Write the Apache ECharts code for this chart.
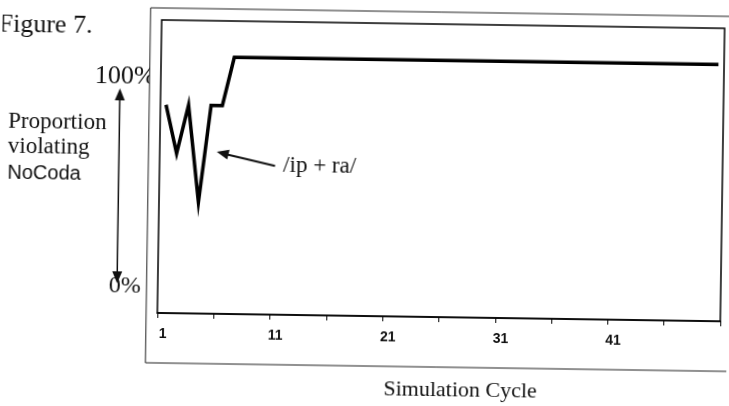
<!DOCTYPE html>
<html>
<head>
<meta charset="utf-8">
<script src="https://cdn.jsdelivr.net/npm/echarts@6/dist/echarts.min.js"></script>
<style>
  html, body { margin: 0; padding: 0; background: #fff; overflow: hidden; }
  /* the original is a slightly tilted scan */
  #chart { width: 729px; height: 406px; transform: rotate(0.85deg); transform-origin: 364.5px 203px; }
</style>
</head>
<body>
<div id="chart"></div>
<script>
  // simulation cycles 1..50
  var cycles = [];
  for (var i = 1; i <= 50; i++) cycles.push(String(i));

  // proportion of speakers violating NoCoda for /ip + ra/
  var violating = [0.8, 0.6, 0.8, 0.4, 0.8, 0.8,
    1, 1, 1, 1, 1, 1, 1, 1, 1, 1, 1, 1, 1, 1, 1, 1,
    1, 1, 1, 1, 1, 1, 1, 1, 1, 1, 1, 1, 1, 1, 1, 1,
    1, 1, 1, 1, 1, 1, 1, 1, 1, 1, 1, 1];

  var serif = '"Liberation Serif", "Times New Roman", serif';
  var sans = '"Liberation Sans", Arial, sans-serif';

  // little helper for the hand-drawn arrows
  function arrowHead(tip, tail, len, half) {
    var dx = tail[0] - tip[0], dy = tail[1] - tip[1];
    var d = Math.sqrt(dx * dx + dy * dy);
    var ux = dx / d, uy = dy / d;
    var bx = tip[0] + ux * len, by = tip[1] + uy * len;
    return [tip, [bx - uy * half, by + ux * half], [bx + uy * half, by - ux * half]];
  }

  function label(txt, x, y, size, font, z) {
    return {
      type: 'text', x: x, y: y, z: z,
      style: { text: txt, font: size + 'px ' + font, fill: '#111',
        align: 'left', verticalAlign: 'middle', textAlign: 'left', textVerticalAlign: 'middle' }
    };
  }

  var chart = echarts.init(document.getElementById('chart'));

  var upTip = [118.3, 92], downTip = [118.3, 287];
  var smallTip = [216, 154], smallTail = [274.5, 167.3];

  var option = {
    animation: false,
    backgroundColor: '#fff',
    grid: {
      left: 159, top: 23, width: 563, height: 293,
      show: true, borderColor: '#000', borderWidth: 1.5, backgroundColor: 'transparent'
    },
    xAxis: {
      type: 'category',
      data: cycles,
      boundaryGap: true,
      axisLine: { onZero: false, lineStyle: { color: '#000', width: 1.5 } },
      axisTick: { show: true, interval: 4, length: 5, lineStyle: { color: '#000', width: 1 } },
      axisLabel: { interval: 9, margin: 14, color: '#111', fontSize: 14, fontWeight: 'bold', fontFamily: sans },
      splitLine: { show: false }
    },
    yAxis: {
      type: 'value',
      min: -0.06,
      max: 1.15,
      show: false
    },
    series: [{
      name: '/ip + ra/',
      type: 'line',
      data: violating,
      symbol: 'none',
      lineStyle: { color: '#000', width: 3.5, join: 'miter' }
    }],
    graphic: [
      label('Figure 7.', -4, 30, 26, serif, -2),
      label('100%', 93, 80, 26, serif, -2),
      label('Proportion', 7, 127, 23, serif, -2),
      label('violating', 7, 152, 23, serif, -2),
      label('NoCoda', 7, 178, 20, sans, -2),
      label('0%', 110, 290, 24, serif, -2),
      // outer frame of the pasted chart, white so it hides what runs under it
      { type: 'rect', z: -1, shape: { x: 147.8, y: 11, width: 600, height: 355 },
        style: { fill: '#fff', stroke: '#222', lineWidth: 1 } },
      // double-headed arrow on the left
      { type: 'line', z: -2, shape: { x1: upTip[0], y1: upTip[1] + 8, x2: downTip[0], y2: downTip[1] - 8 },
        style: { stroke: '#111', lineWidth: 1.5 } },
      { type: 'polygon', z: -2, shape: { points: arrowHead(upTip, downTip, 12, 5) }, style: { fill: '#111' } },
      { type: 'polygon', z: -2, shape: { points: arrowHead(downTip, upTip, 12, 5) }, style: { fill: '#111' } },
      // pointer to the curve
      { type: 'line', z: 10, shape: { x1: smallTip[0] + 8, y1: smallTip[1] + 2, x2: smallTail[0], y2: smallTail[1] },
        style: { stroke: '#111', lineWidth: 2 } },
      { type: 'polygon', z: 10, shape: { points: arrowHead(smallTip, smallTail, 12, 5) }, style: { fill: '#111' } },
      label('/ip + ra/', 282.6, 167, 23, serif, 10),
      {
        type: 'text', x: 462.9, y: 389, z: 10,
        style: { text: 'Simulation Cycle', font: '22px ' + serif, fill: '#111',
          align: 'center', verticalAlign: 'middle', textAlign: 'center', textVerticalAlign: 'middle' }
      }
    ]
  };

  chart.setOption(option);
</script>
</body>
</html>
